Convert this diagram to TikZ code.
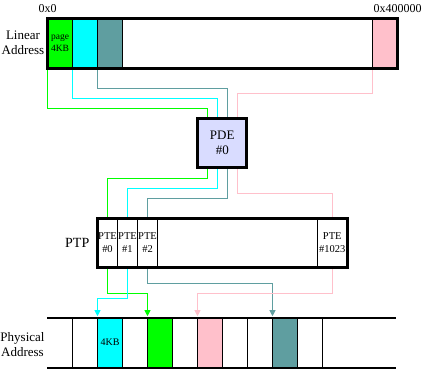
\documentclass[tikz,border=0pt]{standalone}
\usepackage{fontspec}
\setmainfont{Liberation Serif}
\usetikzlibrary{arrows.meta,positioning}
\pgfdeclarelayer{background}
\pgfsetlayers{background,main}
\definecolor{pggreen}{HTML}{00FF00}
\definecolor{pgcyan}{HTML}{00FFFF}
\definecolor{pgteal}{HTML}{5F9EA0}
\definecolor{pgpink}{HTML}{FFC0CB}
\definecolor{pdeblue}{HTML}{D9DCFF}

\begin{document}
\begin{tikzpicture}[x=1pt, y=-1pt,
          bar/.style={draw, line width=3pt, fill=white, inner sep=0pt, outer sep=0pt},
          cell/.style={draw, line width=1pt, inner sep=0pt, outer sep=0pt,
            minimum width=25, minimum height=49.5},
          ptecell/.style={draw, line width=1pt, inner sep=0pt, outer sep=0pt,
            minimum width=20, minimum height=49, align=center,
            font=\fontsize{10.5}{13}\selectfont},
          lab/.style={align=center, font=\fontsize{13}{15}\selectfont, inner sep=0pt},
          hexlab/.style={font=\fontsize{12}{14}\selectfont, inner sep=0pt},
          link/.style={line width=1pt},
          fetch/.style={line width=1pt, -{Triangle[width=6pt,length=6pt]}}
        ]
        \useasboundingbox (0,0) rectangle (424,370);

        % linear address space, 4KB pages
        \node[bar, minimum width=350, minimum height=49.5] (lin) at (222.5,43.25) {};
        \node[cell, fill=pggreen, anchor=north west, align=center,
              font=\fontsize{9.5}{12.5}\selectfont] (lg) at (lin.north west) {page\\4KB};
        \node[cell, fill=pgcyan, right=0pt of lg] (lc) {};
        \node[cell, fill=pgteal, right=0pt of lc] (lt) {};
        \node[cell, fill=pgpink, anchor=north east] (lp) at (lin.north east) {};
        \draw[line width=3pt] (lin.north west) rectangle (lin.south east);

        \node[hexlab, above=6pt of lin.north west] (hlow) {0x0};
        \node[hexlab, above=6pt of lin.north east] (hhigh) {0x400000};
        \node[lab, left=3pt of lin.west] (linlab) {Linear\\Address};

        % directory entry
        \node[bar, fill=pdeblue, minimum width=49, minimum height=49.5, align=center,
              font=\fontsize{13}{14.5}\selectfont] (pde) at (222.25,143) {PDE\\\#0};

        % page table
        \node[bar, minimum width=249.5, minimum height=49] (ptp) at (222.25,243) {};
        \node[ptecell, anchor=north west] (pte0) at (ptp.north west) {PTE\\\#0};
        \node[ptecell, right=0pt of pte0] (pte1) {PTE\\\#1};
        \node[ptecell, right=0pt of pte1] (pte2) {PTE\\\#2};
        \node[ptecell, minimum width=29.5, anchor=north east] (pte1023)
              at (ptp.north east) {PTE\\\#1023};
        \draw[line width=3pt] (ptp.north west) rectangle (ptp.south east);
        \node[lab, font=\fontsize{14}{16}\selectfont, left=8pt of ptp.west] (ptplab) {PTP};

        % physical frames
        \foreach \i/\col/\txt in {0/white/{},1/pgcyan/4KB,2/white/{},3/pggreen/{},
                                  4/white/{},5/pgpink/{},6/white/{},7/white/{},
                                  8/pgteal/{},9/white/{}}
          \node[cell, fill=\col, minimum height=50, font=\fontsize{10}{12}\selectfont]
                (pf\i) at (85+25*\i,342.7) {\txt};
        \draw[line width=2pt] (47,317.7) -- (396,317.7);
        \draw[line width=2pt] (47,367.7) -- (396,367.7);
        \node[lab] (physlab) at (22.5,345) {Physical\\Address};

        \begin{pgfonlayer}{background}
          % linear -> PDE
          \draw[link, pggreen] (lg.south west) -- ++(0,40.5) -| ([xshift=-14.5pt]pde.north);
          \draw[link, pgcyan]  (lc.south west) -- ++(0,30.5) -| ([xshift=-5pt]pde.north);
          \draw[link, pgteal]  (lt.south west) -- ++(0,20.5) -| ([xshift=5pt]pde.north);
          \draw[link, pgpink]  (lp.south west) -- ++(0,25.5) -| ([xshift=15pt]pde.north);
          % PDE -> PTE
          \draw[link, pggreen] ([xshift=-14.5pt]pde.south) -- ++(0,11) -| (pte0.north);
          \draw[link, pgcyan]  ([xshift=-5pt]pde.south) -- ++(0,21) -| (pte1.north);
          \draw[link, pgteal]  ([xshift=5pt]pde.south) -- ++(0,31) -| (pte2.north);
          \draw[link, pgpink]  ([xshift=15pt]pde.south) -- ++(0,26) -| (pte1023.north);
          % PTE -> frames
          \draw[fetch, pggreen] (pte0.south) -- ++(0,26) -| ([yshift=1.5pt]pf3.north west);
          \draw[fetch, pgcyan]  (pte1.south) -- ++(0,31) -| ([yshift=1.5pt]pf1.north west);
          \draw[fetch, pgteal]  (pte2.south) -- ++(0,16) -| ([yshift=1.5pt]pf8.north west);
          \draw[fetch, pgpink]  (pte1023.south) -- ++(0,26) -| ([yshift=1.5pt]pf5.north west);
        \end{pgfonlayer}
      \end{tikzpicture}
\end{document}
